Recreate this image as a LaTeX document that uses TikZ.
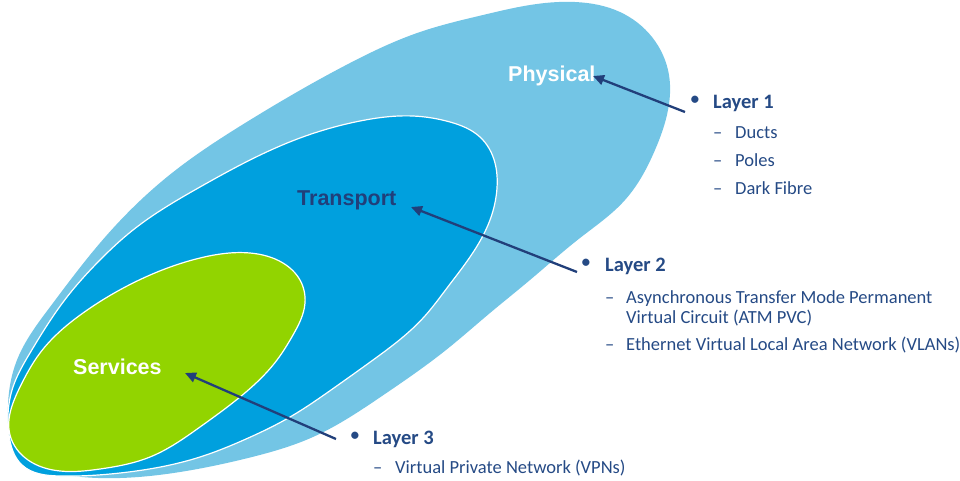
\documentclass[tikz,border=0pt]{standalone}
\usepackage{fontspec}
\setmainfont{Carlito}
\newfontfamily\labelfont{Liberation Sans}
\usetikzlibrary{arrows.meta,hobby}
\definecolor{outerblue}{HTML}{73C5E5}
\definecolor{midblue}{HTML}{00A0DE}
\definecolor{lgreen}{HTML}{92D400}
\definecolor{navy}{HTML}{213F7A}
\definecolor{txtblue}{HTML}{254A85}
\begin{document}
\begin{tikzpicture}[x=1pt,y=-1pt,
  blob/.style={line join=round,use Hobby shortcut,closed=true},
  rim/.style={draw=white,line width=1.2pt},
  lbl/.style={inner sep=0pt,anchor=base west,font=\labelfont\bfseries\fontsize{21.5}{26}\selectfont},
  head/.style={inner sep=0pt,anchor=base west,text=txtblue,font=\bfseries\fontsize{20.5}{24}\selectfont},
  bul/.style={inner sep=0pt,text=txtblue,font=\fontsize{20.5}{24}\selectfont},
  item/.style={inner sep=0pt,anchor=base west,text=txtblue,font=\fontsize{18.5}{22}\selectfont},
  arr/.style={draw=navy,line width=2.3pt,-{Triangle[length=11pt,width=10pt]}}]
\useasboundingbox (0,0) rectangle (960,480);
% outer (Physical)
\fill[outerblue,blob] (483,15) .. (530,5) .. (575,2) .. (620,12) .. (652,37) .. (669,75)
 .. (668,110) .. (655,150) .. (625,200) .. (580,238) .. (530,280) .. (490,313) .. (446,350)
 .. (382,396) .. (313,437) .. (248,458) .. (180,472) .. (120,478) .. (60,474) .. (20,455)
 .. (8,415) .. (17,360) .. (50,307) .. (100,243) .. (167,177) .. (250,120) .. (350,63) .. (420,32);
% middle (Transport)
\filldraw[fill=midblue,rim,blob] (413,116) .. (450,122) .. (480,137) .. (495,163) .. (497,188)
 .. (490,220) .. (470,257) .. (447,288) .. (424,317) .. (373,360) .. (331,390) .. (290,417)
 .. (246,439) .. (200,457) .. (120,473) .. (60,476) .. (22,465) .. (9,435) .. (13,387)
 .. (30,353) .. (67,297) .. (98,262) .. (133,230) .. (200,187) .. (250,160) .. (300,138) .. (360,121);
% inner (Services)
\filldraw[fill=lgreen,rim,blob] (250,253) .. (283,263) .. (300,280) .. (305,303) .. (293,335)
 .. (277,360) .. (240,397) .. (200,427) .. (150,457) .. (100,469) .. (60,471) .. (28,460)
 .. (10,435) .. (20,387) .. (40,353) .. (83,313) .. (133,283) .. (200,258);
% labels
\node[lbl,text=white] (phys) at (508,81) {Physical};
\node[lbl,text=navy] (trans) at (297,205) {Transport};
\node[lbl,text=white] (serv) at (73,374) {Services};
% layer 1
\node[bul] (b1) at (695,101) {•};
\node[head] (l1) at (713,108) {Layer 1};
\node[item] (l1a) at (713,138) {\makebox[22pt][l]{–}Ducts};
\node[item] (l1b) at (713,166) {\makebox[22pt][l]{–}Poles};
\node[item] (l1c) at (713,194) {\makebox[22pt][l]{–}Dark Fibre};
% layer 2
\node[bul] (b2) at (586,264) {•};
\node[head] (l2) at (605,271) {Layer 2};
\node[item] (l2a) at (605,303) {\makebox[21pt][l]{–}Asynchronous Transfer Mode Permanent};
\node[item] (l2b) at (626,323) {Virtual Circuit (ATM PVC)};
\node[item] (l2c) at (605,350) {\makebox[21pt][l]{–}Ethernet Virtual Local Area Network (VLANs)};
% layer 3
\node[bul] (b3) at (355,437) {•};
\node[head] (l3) at (373,444) {Layer 3};
\node[item] (l3a) at (373,473) {\makebox[22pt][l]{–}Virtual Private Network (VPNs)};
% arrows
\coordinate (t1) at (685,112); \coordinate (h1) at (593,76);
\coordinate (t2) at (577,272); \coordinate (h2) at (411,207);
\coordinate (t3) at (336,439); \coordinate (h3) at (185,373);
\draw[arr] (t1) -- (h1);
\draw[arr] (t2) -- (h2);
\draw[arr] (t3) -- (h3);
\end{tikzpicture}
\end{document}
